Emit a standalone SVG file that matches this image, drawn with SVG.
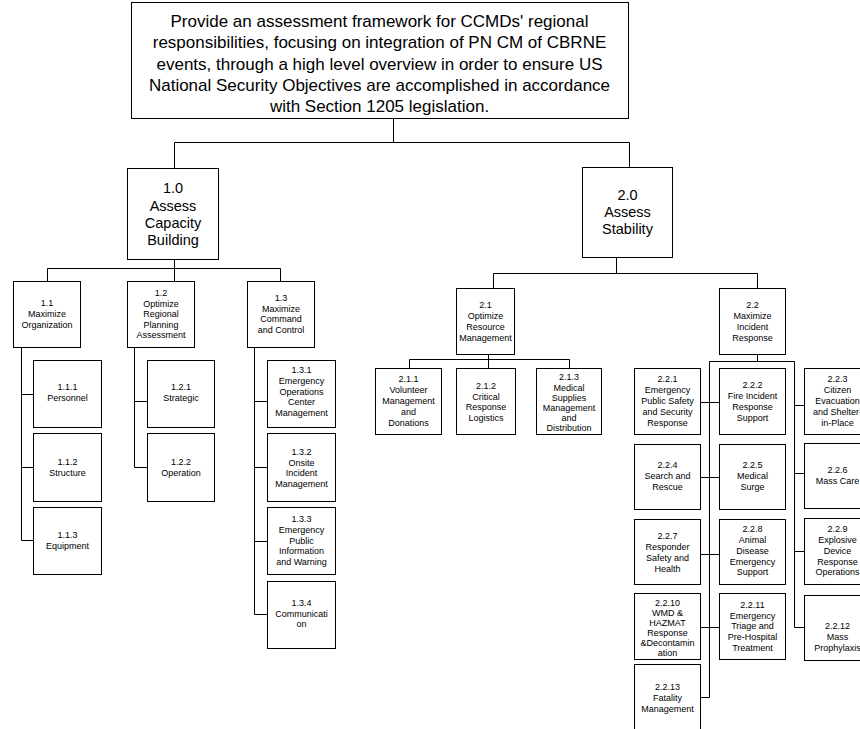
<svg xmlns="http://www.w3.org/2000/svg" width="860" height="729" viewBox="0 0 860 729">
<style>
.box{fill:#fff;stroke:#000;stroke-width:1}
.c{fill:none;stroke:#000;stroke-width:1}
text{font-family:"Liberation Sans",Arial,sans-serif;fill:#000;text-anchor:middle}
.t17{font-size:17px}
.t14{font-size:14.5px}
.t9{font-size:9px}
</style>
<rect width="860" height="729" fill="#fff"/>
<g id="connectors">
<path class="c" d="M393.5 118V142.5M174.5 142.5H629.5M174.5 142.5V168M629.5 142.5V167"/>
<path class="c" d="M174.5 259V281M47.5 268.5H280.5M47.5 268.5V281M280.5 268.5V281"/>
<path class="c" d="M21.5 347V540.5M21.5 394.5H33M21.5 467.5H33M21.5 540.5H33"/>
<path class="c" d="M134.5 347V467.5M134.5 401.5H147M134.5 467.5H147"/>
<path class="c" d="M254.5 347V614.5M254.5 401.5H267M254.5 467.5H267M254.5 541.5H267M254.5 614.5H267"/>
<path class="c" d="M616.5 257V273.5M493.5 273.5H757.5M493.5 273.5V288M757.5 273.5V288"/>
<path class="c" d="M488.5 354V368M409.5 359.5H569.5M409.5 359.5V368M569.5 359.5V368"/>
<path class="c" d="M757.5 354V361.5M709.5 361.5H794.5M709.5 361.5V697.5M794.5 361.5V627.5"/>
<path class="c" d="M700 402.5H719M700 477.5H719M700 554.5H719M700 627.5H719M700 697.5H709.5"/>
<path class="c" d="M794.5 405.5H804M794.5 473.5H804M794.5 551.5H804M794.5 627.5H804"/>
</g>
<g id="n0">
<rect class="box" x="131.5" y="2.5" width="497" height="116"/>
<text class="t17" x="379.5"><tspan x="379.5" y="27">Provide an assessment framework for CCMDs' regional</tspan><tspan x="379.5" y="48.3">responsibilities, focusing on integration of PN CM of CBRNE</tspan><tspan x="379.5" y="69.6">events, through a high level overview in order to ensure US</tspan><tspan x="379.5" y="90.9">National Security Objectives are accomplished in accordance</tspan><tspan x="379.5" y="112.2">with Section 1205 legislation.</tspan></text>
</g>
<g id="n1">
<rect class="box" x="127.5" y="168.5" width="91" height="91"/>
<text class="t14"><tspan x="173" y="193">1.0</tspan><tspan x="173" y="211">Assess</tspan><tspan x="173" y="228">Capacity</tspan><tspan x="173" y="245">Building</tspan></text>
</g>
<g id="n2">
<rect class="box" x="582.5" y="167.5" width="90" height="90"/>
<text class="t14"><tspan x="627.5" y="200">2.0</tspan><tspan x="627.5" y="217">Assess</tspan><tspan x="627.5" y="234">Stability</tspan></text>
</g>
<g id="n1_1">
<rect class="box" x="13.5" y="281.5" width="67" height="66"/>
<text class="t9"><tspan x="47" y="306">1.1</tspan><tspan x="47" y="317">Maximize</tspan><tspan x="47" y="327.5">Organization</tspan></text>
</g>
<g id="n1_2">
<rect class="box" x="127.5" y="281.5" width="67" height="66"/>
<text class="t9"><tspan x="161" y="296">1.2</tspan><tspan x="161" y="306.5">Optimize</tspan><tspan x="161" y="317">Regional</tspan><tspan x="161" y="327.5">Planning</tspan><tspan x="161" y="338">Assessment</tspan></text>
</g>
<g id="n1_3">
<rect class="box" x="247.5" y="281.5" width="67" height="66"/>
<text class="t9"><tspan x="281" y="300.5">1.3</tspan><tspan x="281" y="311.5">Maximize</tspan><tspan x="281" y="322">Command</tspan><tspan x="281" y="333">and Control</tspan></text>
</g>
<g id="n1_1_1">
<rect class="box" x="33.5" y="360.5" width="68" height="67"/>
<text class="t9"><tspan x="67.5" y="390">1.1.1</tspan><tspan x="67.5" y="401">Personnel</tspan></text>
</g>
<g id="n1_1_2">
<rect class="box" x="33.5" y="433.5" width="68" height="68"/>
<text class="t9"><tspan x="67.5" y="465">1.1.2</tspan><tspan x="67.5" y="475.5">Structure</tspan></text>
</g>
<g id="n1_1_3">
<rect class="box" x="33.5" y="507.5" width="68" height="67"/>
<text class="t9"><tspan x="67.5" y="538">1.1.3</tspan><tspan x="67.5" y="549">Equipment</tspan></text>
</g>
<g id="n1_2_1">
<rect class="box" x="147.5" y="360.5" width="67" height="67"/>
<text class="t9"><tspan x="181" y="390">1.2.1</tspan><tspan x="181" y="401">Strategic</tspan></text>
</g>
<g id="n1_2_2">
<rect class="box" x="147.5" y="433.5" width="67" height="68"/>
<text class="t9"><tspan x="181" y="465">1.2.2</tspan><tspan x="181" y="476">Operation</tspan></text>
</g>
<g id="n1_3_1">
<rect class="box" x="267.5" y="360.5" width="68" height="67"/>
<text class="t9"><tspan x="301.5" y="373">1.3.1</tspan><tspan x="301.5" y="384">Emergency</tspan><tspan x="301.5" y="394.5">Operations</tspan><tspan x="301.5" y="405">Center</tspan><tspan x="301.5" y="416">Management</tspan></text>
</g>
<g id="n1_3_2">
<rect class="box" x="267.5" y="433.5" width="68" height="68"/>
<text class="t9"><tspan x="301.5" y="455">1.3.2</tspan><tspan x="301.5" y="465.5">Onsite</tspan><tspan x="301.5" y="476">Incident</tspan><tspan x="301.5" y="486.5">Management</tspan></text>
</g>
<g id="n1_3_3">
<rect class="box" x="267.5" y="507.5" width="68" height="67"/>
<text class="t9"><tspan x="301.5" y="522">1.3.3</tspan><tspan x="301.5" y="533">Emergency</tspan><tspan x="301.5" y="543.5">Public</tspan><tspan x="301.5" y="554">Information</tspan><tspan x="301.5" y="565">and Warning</tspan></text>
</g>
<g id="n1_3_4">
<rect class="box" x="267.5" y="581.5" width="68" height="67"/>
<text class="t9"><tspan x="301.5" y="606">1.3.4</tspan><tspan x="301.5" y="617">Communicati</tspan><tspan x="301.5" y="627">on</tspan></text>
</g>
<g id="n2_1">
<rect class="box" x="456.5" y="288.5" width="58" height="66"/>
<text class="t9"><tspan x="485.5" y="308">2.1</tspan><tspan x="485.5" y="319">Optimize</tspan><tspan x="485.5" y="330">Resource</tspan><tspan x="485.5" y="340.5">Management</tspan></text>
</g>
<g id="n2_1_1">
<rect class="box" x="375.5" y="368.5" width="66" height="66"/>
<text class="t9"><tspan x="408.5" y="382">2.1.1</tspan><tspan x="408.5" y="393">Volunteer</tspan><tspan x="408.5" y="404">Management</tspan><tspan x="408.5" y="415">and</tspan><tspan x="408.5" y="426">Donations</tspan></text>
</g>
<g id="n2_1_2">
<rect class="box" x="456.5" y="368.5" width="59" height="66"/>
<text class="t9"><tspan x="486" y="389">2.1.2</tspan><tspan x="486" y="399.5">Critical</tspan><tspan x="486" y="410">Response</tspan><tspan x="486" y="420.5">Logistics</tspan></text>
</g>
<g id="n2_1_3">
<rect class="box" x="536.5" y="368.5" width="65" height="66"/>
<text class="t9"><tspan x="569" y="380">2.1.3</tspan><tspan x="569" y="390.5">Medical</tspan><tspan x="569" y="400.5">Supplies</tspan><tspan x="569" y="410.5">Management</tspan><tspan x="569" y="420.5">and</tspan><tspan x="569" y="430.5">Distribution</tspan></text>
</g>
<g id="n2_2">
<rect class="box" x="719.5" y="288.5" width="66" height="66"/>
<text class="t9"><tspan x="752.5" y="308">2.2</tspan><tspan x="752.5" y="319">Maximize</tspan><tspan x="752.5" y="330">Incident</tspan><tspan x="752.5" y="340.5">Response</tspan></text>
</g>
<g id="n2_2_1">
<rect class="box" x="634.5" y="368.5" width="66" height="66"/>
<text class="t9"><tspan x="667.5" y="382">2.2.1</tspan><tspan x="667.5" y="393">Emergency</tspan><tspan x="667.5" y="404">Public Safety</tspan><tspan x="667.5" y="415">and Security</tspan><tspan x="667.5" y="426">Response</tspan></text>
</g>
<g id="n2_2_2">
<rect class="box" x="719.5" y="368.5" width="66" height="66"/>
<text class="t9"><tspan x="752.5" y="388">2.2.2</tspan><tspan x="752.5" y="399">Fire Incident</tspan><tspan x="752.5" y="410">Response</tspan><tspan x="752.5" y="420.5">Support</tspan></text>
</g>
<g id="n2_2_3">
<rect class="box" x="804.5" y="368.5" width="66" height="66"/>
<text class="t9"><tspan x="837.5" y="382">2.2.3</tspan><tspan x="837.5" y="393">Citizen</tspan><tspan x="837.5" y="404">Evacuation</tspan><tspan x="837.5" y="415">and Shelter-</tspan><tspan x="837.5" y="426">in-Place</tspan></text>
</g>
<g id="n2_2_4">
<rect class="box" x="634.5" y="444.5" width="66" height="65"/>
<text class="t9"><tspan x="667.5" y="468">2.2.4</tspan><tspan x="667.5" y="479">Search and</tspan><tspan x="667.5" y="490">Rescue</tspan></text>
</g>
<g id="n2_2_5">
<rect class="box" x="719.5" y="444.5" width="66" height="65"/>
<text class="t9"><tspan x="752.5" y="468">2.2.5</tspan><tspan x="752.5" y="479">Medical</tspan><tspan x="752.5" y="490">Surge</tspan></text>
</g>
<g id="n2_2_6">
<rect class="box" x="804.5" y="443.5" width="66" height="65"/>
<text class="t9"><tspan x="837.5" y="473">2.2.6</tspan><tspan x="837.5" y="484">Mass Care</tspan></text>
</g>
<g id="n2_2_7">
<rect class="box" x="634.5" y="519.5" width="66" height="65"/>
<text class="t9"><tspan x="667.5" y="539">2.2.7</tspan><tspan x="667.5" y="550">Responder</tspan><tspan x="667.5" y="561">Safety and</tspan><tspan x="667.5" y="571.5">Health</tspan></text>
</g>
<g id="n2_2_8">
<rect class="box" x="719.5" y="519.5" width="66" height="65"/>
<text class="t9"><tspan x="752.5" y="532">2.2.8</tspan><tspan x="752.5" y="543">Animal</tspan><tspan x="752.5" y="554">Disease</tspan><tspan x="752.5" y="564.5">Emergency</tspan><tspan x="752.5" y="575">Support</tspan></text>
</g>
<g id="n2_2_9">
<rect class="box" x="804.5" y="518.5" width="66" height="66"/>
<text class="t9"><tspan x="837.5" y="532">2.2.9</tspan><tspan x="837.5" y="543">Explosive</tspan><tspan x="837.5" y="554">Device</tspan><tspan x="837.5" y="564.5">Response</tspan><tspan x="837.5" y="575">Operations</tspan></text>
</g>
<g id="n2_2_10">
<rect class="box" x="634.5" y="593.5" width="66" height="66"/>
<text class="t9"><tspan x="667.5" y="605.5">2.2.10</tspan><tspan x="667.5" y="616">WMD &amp;</tspan><tspan x="667.5" y="626">HAZMAT</tspan><tspan x="667.5" y="636">Response</tspan><tspan x="667.5" y="646">&amp;Decontamin</tspan><tspan x="667.5" y="656">ation</tspan></text>
</g>
<g id="n2_2_11">
<rect class="box" x="719.5" y="593.5" width="66" height="66"/>
<text class="t9"><tspan x="752.5" y="608">2.2.11</tspan><tspan x="752.5" y="618.5">Emergency</tspan><tspan x="752.5" y="629">Triage and</tspan><tspan x="752.5" y="640">Pre-Hospital</tspan><tspan x="752.5" y="650.5">Treatment</tspan></text>
</g>
<g id="n2_2_12">
<rect class="box" x="804.5" y="595.5" width="66" height="65"/>
<text class="t9"><tspan x="837.5" y="629">2.2.12</tspan><tspan x="837.5" y="640">Mass</tspan><tspan x="837.5" y="650.5">Prophylaxis</tspan></text>
</g>
<g id="n2_2_13">
<rect class="box" x="634.5" y="664.5" width="66" height="66"/>
<text class="t9"><tspan x="667.5" y="690">2.2.13</tspan><tspan x="667.5" y="701">Fatality</tspan><tspan x="667.5" y="711.5">Management</tspan></text>
</g>
</svg>
